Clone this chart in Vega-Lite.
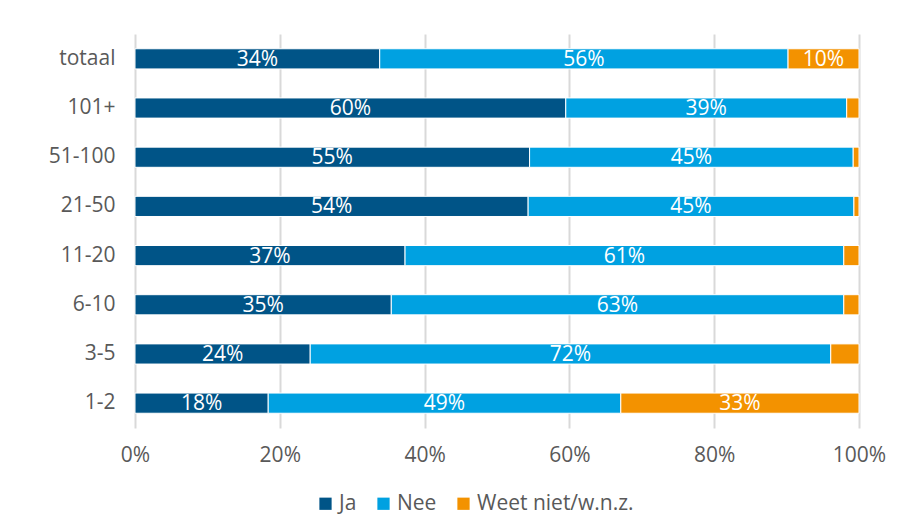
{
  "$schema": "https://vega.github.io/schema/vega-lite/v6.json",
  "width": 724,
  "height": 394,
  "autosize": "none",
  "padding": {"left": 135, "top": 34, "right": 55, "bottom": 100},
  "background": "white",
  "config": {
    "font": "Open Sans",
    "view": {"stroke": null},
    "axis": {"labelColor": "#595959", "labelFontSize": 21, "domain": false, "ticks": false}
  },
  "data": {
    "values": [
      {"cat": "totaal", "resp": "Ja", "o": 1, "value": 33.8},
      {"cat": "totaal", "resp": "Nee", "o": 2, "value": 56.4},
      {"cat": "totaal", "resp": "Weet niet/w.n.z.", "o": 3, "value": 9.8},
      {"cat": "101+", "resp": "Ja", "o": 1, "value": 59.5},
      {"cat": "101+", "resp": "Nee", "o": 2, "value": 38.8},
      {"cat": "101+", "resp": "Weet niet/w.n.z.", "o": 3, "value": 1.7},
      {"cat": "51-100", "resp": "Ja", "o": 1, "value": 54.5},
      {"cat": "51-100", "resp": "Nee", "o": 2, "value": 44.7},
      {"cat": "51-100", "resp": "Weet niet/w.n.z.", "o": 3, "value": 0.8},
      {"cat": "21-50", "resp": "Ja", "o": 1, "value": 54.3},
      {"cat": "21-50", "resp": "Nee", "o": 2, "value": 45.0},
      {"cat": "21-50", "resp": "Weet niet/w.n.z.", "o": 3, "value": 0.7},
      {"cat": "11-20", "resp": "Ja", "o": 1, "value": 37.3},
      {"cat": "11-20", "resp": "Nee", "o": 2, "value": 60.6},
      {"cat": "11-20", "resp": "Weet niet/w.n.z.", "o": 3, "value": 2.1},
      {"cat": "6-10", "resp": "Ja", "o": 1, "value": 35.4},
      {"cat": "6-10", "resp": "Nee", "o": 2, "value": 62.5},
      {"cat": "6-10", "resp": "Weet niet/w.n.z.", "o": 3, "value": 2.1},
      {"cat": "3-5", "resp": "Ja", "o": 1, "value": 24.2},
      {"cat": "3-5", "resp": "Nee", "o": 2, "value": 71.9},
      {"cat": "3-5", "resp": "Weet niet/w.n.z.", "o": 3, "value": 3.9},
      {"cat": "1-2", "resp": "Ja", "o": 1, "value": 18.4},
      {"cat": "1-2", "resp": "Nee", "o": 2, "value": 48.7},
      {"cat": "1-2", "resp": "Weet niet/w.n.z.", "o": 3, "value": 32.9}
    ]
  },
  "transform": [
    {"stack": "value", "groupby": ["cat"], "sort": [{"field": "o"}], "as": ["v0", "v1"]},
    {"calculate": "(datum.v0 + datum.v1) / 2", "as": "mid"},
    {"calculate": "round(datum.value) + '%'", "as": "lab"}
  ],
  "encoding": {
    "y": {
      "field": "cat", "type": "nominal",
      "sort": ["totaal", "101+", "51-100", "21-50", "11-20", "6-10", "3-5", "1-2"],
      "scale": {"paddingInner": 0.59, "paddingOuter": 0.3},
      "axis": {"title": null, "labelPadding": 20}
    }
  },
  "layer": [
    {
      "mark": {"type": "bar", "stroke": "white", "strokeWidth": 1},
      "encoding": {
        "x": {
          "field": "v0", "type": "quantitative",
          "scale": {"domain": [0, 100]},
          "axis": {"title": null, "values": [0, 20, 40, 60, 80, 100], "labelExpr": "datum.value + '%'",
                   "labelFlush": false, "gridColor": "#d9d9d9", "gridWidth": 2, "labelPadding": 16}
        },
        "x2": {"field": "v1"},
        "color": {
          "field": "resp", "type": "nominal",
          "scale": {"domain": ["Ja", "Nee", "Weet niet/w.n.z."], "range": ["#005487", "#00A1E1", "#F39200"]},
          "legend": {
            "title": null, "orient": "none", "direction": "horizontal",
            "legendX": 180, "legendY": 459,
            "symbolType": "square", "symbolSize": 150, "symbolStrokeWidth": 0,
            "labelFontSize": 21, "labelColor": "#595959", "columnPadding": 16, "labelOffset": 3
          }
        }
      }
    },
    {
      "transform": [{"filter": "datum.value >= 5"}],
      "mark": {"type": "text", "color": "white", "fontSize": 21, "baseline": "middle", "dy": 1},
      "encoding": {
        "x": {"field": "mid", "type": "quantitative"},
        "text": {"field": "lab"}
      }
    }
  ]
}
